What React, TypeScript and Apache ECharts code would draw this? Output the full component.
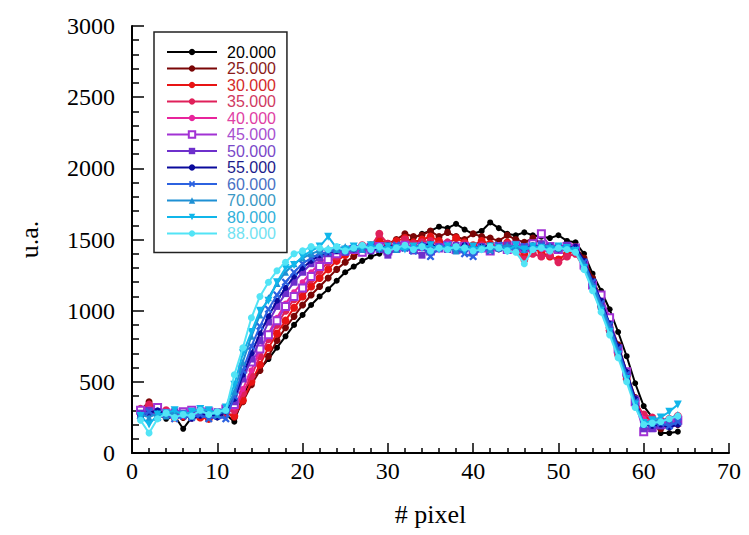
import { useEffect, useRef } from 'react';
import * as echarts from 'echarts';

const pixels = [1, 2, 3, 4, 5, 6, 7, 8, 9, 10, 11, 12, 13, 14, 15, 16, 17, 18, 19, 20, 21, 22, 23, 24, 25, 26, 27, 28, 29, 30, 31, 32, 33, 34, 35, 36, 37, 38, 39, 40, 41, 42, 43, 44, 45, 46, 47, 48, 49, 50, 51, 52, 53, 54, 55, 56, 57, 58, 59, 60, 61, 62, 63, 64];

const energies = ['20.000', '25.000', '30.000', '35.000', '40.000', '45.000', '50.000', '55.000', '60.000', '70.000', '80.000', '88.000'];

const s20 = [250, 300, 270, 240, 260, 170, 250, 260, 240, 250,
  270, 220, 400, 520, 590, 660, 740, 820, 900, 970,
  1040, 1100, 1150, 1210, 1270, 1310, 1350, 1380, 1400, 1430,
  1450, 1480, 1510, 1540, 1560, 1590, 1580, 1610, 1570, 1540,
  1560, 1620, 1580, 1540, 1530, 1550, 1530, 1520, 1510, 1530,
  1490, 1480, 1400, 1260, 1140, 1010, 850, 680, 490, 330,
  250, 140, 140, 150];
const s25 = [300, 360, 300, 280, 270, 250, 280, 260, 270, 260,
  290, 250, 360, 480, 580, 680, 790, 880, 960, 1040,
  1110, 1170, 1230, 1290, 1340, 1380, 1420, 1450, 1480, 1470,
  1500, 1540, 1520, 1530, 1560, 1520, 1550, 1520, 1500, 1540,
  1520, 1510, 1490, 1530, 1500, 1480, 1510, 1470, 1450, 1440,
  1460, 1450, 1370, 1230, 1080, 920, 760, 570, 390, 230,
  180, 170, 190, 200];
const s30 = [280, 320, 290, 270, 250, 260, 270, 250, 240, 270,
  280, 260, 370, 500, 620, 740, 840, 930, 1020, 1100,
  1170, 1230, 1290, 1350, 1390, 1420, 1440, 1460, 1500, 1470,
  1490, 1510, 1480, 1500, 1520, 1490, 1470, 1510, 1480, 1460,
  1490, 1470, 1450, 1480, 1430, 1400, 1440, 1410, 1380, 1360,
  1400, 1420, 1320, 1200, 1050, 880, 710, 540, 370, 260,
  230, 200, 210, 230];
const s35 = [310, 340, 280, 300, 260, 280, 250, 270, 260, 280,
  290, 300, 420, 540, 680, 800, 900, 1000, 1080, 1150,
  1220, 1280, 1340, 1380, 1420, 1440, 1460, 1450, 1540, 1470,
  1450, 1500, 1470, 1480, 1490, 1460, 1480, 1450, 1470, 1440,
  1460, 1430, 1450, 1470, 1420, 1360, 1400, 1380, 1390, 1340,
  1380, 1400, 1300, 1180, 1030, 860, 690, 520, 350, 270,
  250, 230, 240, 260];
const s40 = [290, 310, 300, 270, 280, 260, 290, 270, 280, 260,
  300, 320, 450, 580, 720, 840, 950, 1050, 1130, 1200,
  1270, 1330, 1380, 1410, 1430, 1420, 1440, 1430, 1450, 1440,
  1460, 1450, 1430, 1460, 1440, 1450, 1470, 1440, 1430, 1450,
  1440, 1460, 1430, 1450, 1440, 1420, 1450, 1430, 1410, 1420,
  1440, 1430, 1330, 1190, 1040, 880, 720, 540, 360, 240,
  220, 230, 220, 240];
const s45 = [300, 290, 320, 280, 270, 290, 300, 280, 290, 270,
  310, 340, 590, 640, 730, 830, 930, 1030, 1100, 1160,
  1240, 1310, 1360, 1400, 1420, 1430, 1410, 1440, 1450, 1420,
  1440, 1460, 1430, 1450, 1420, 1440, 1460, 1430, 1450, 1420,
  1440, 1420, 1450, 1430, 1460, 1440, 1470, 1540, 1450, 1430,
  1450, 1440, 1320, 1180, 1110, 950, 730, 570, 360, 150,
  180, 200, 210, 230];
const s50 = [280, 300, 290, 270, 290, 280, 270, 300, 280, 290,
  300, 360, 520, 660, 790, 920, 1030, 1120, 1200, 1270,
  1330, 1370, 1400, 1420, 1410, 1430, 1440, 1420, 1430, 1390,
  1430, 1440, 1420, 1390, 1440, 1450, 1430, 1460, 1440, 1420,
  1450, 1430, 1440, 1460, 1430, 1450, 1440, 1470, 1450, 1440,
  1460, 1430, 1340, 1200, 1060, 900, 740, 560, 380, 170,
  170, 190, 200, 210];
const s55 = [260, 280, 300, 270, 250, 270, 240, 260, 280, 250,
  290, 380, 550, 700, 840, 960, 1070, 1160, 1240, 1300,
  1350, 1390, 1410, 1420, 1440, 1430, 1450, 1440, 1430, 1460,
  1440, 1450, 1430, 1460, 1470, 1440, 1450, 1430, 1460, 1440,
  1450, 1460, 1430, 1440, 1450, 1430, 1460, 1440, 1450, 1430,
  1440, 1450, 1350, 1210, 1070, 910, 750, 570, 380, 200,
  190, 200, 180, 200];
const s60 = [260, 290, 250, 270, 240, 260, 250, 270, 240, 260,
  240, 400, 580, 750, 890, 1010, 1110, 1200, 1270, 1330,
  1370, 1400, 1410, 1430, 1420, 1440, 1430, 1450, 1440, 1430,
  1460, 1440, 1420, 1450, 1380, 1440, 1460, 1430, 1400, 1380,
  1440, 1420, 1460, 1440, 1430, 1450, 1440, 1460, 1430, 1450,
  1440, 1430, 1340, 1200, 1050, 900, 730, 550, 360, 200,
  200, 210, 190, 220];
const s70 = [270, 250, 280, 260, 290, 270, 260, 300, 280, 270,
  300, 430, 640, 820, 970, 1090, 1190, 1270, 1330, 1370,
  1400, 1420, 1440, 1430, 1450, 1440, 1430, 1460, 1440, 1450,
  1430, 1450, 1440, 1470, 1430, 1450, 1440, 1420, 1460, 1440,
  1450, 1430, 1440, 1460, 1450, 1430, 1440, 1450, 1460, 1440,
  1450, 1430, 1330, 1180, 1030, 870, 710, 530, 350, 210,
  220, 230, 240, 270];
const s80 = [260, 200, 270, 280, 300, 270, 290, 310, 300, 280,
  320, 480, 700, 850, 1000, 1070, 1200, 1300, 1320, 1380,
  1420, 1450, 1520, 1440, 1430, 1450, 1440, 1460, 1430, 1450,
  1440, 1430, 1450, 1440, 1460, 1430, 1450, 1440, 1420, 1450,
  1430, 1450, 1440, 1420, 1460, 1430, 1450, 1440, 1430, 1450,
  1440, 1420, 1300, 1150, 1000, 850, 690, 520, 340, 210,
  230, 250, 290, 340];
const s88 = [230, 140, 240, 280, 250, 270, 260, 300, 270, 290,
  300, 550, 740, 950, 1100, 1200, 1280, 1340, 1400, 1420,
  1450, 1440, 1430, 1450, 1420, 1440, 1460, 1430, 1450, 1420,
  1440, 1460, 1430, 1450, 1420, 1440, 1430, 1450, 1440, 1420,
  1430, 1450, 1440, 1420, 1410, 1330, 1430, 1440, 1420, 1440,
  1430, 1410, 1290, 1140, 990, 830, 670, 500, 320, 200,
  210, 220, 240, 260];

const seriesValues = [s20, s25, s30, s35, s40, s45, s50, s55, s60, s70, s80, s88];

const xTicks = { min: 0, max: 70, interval: 10 };
const yTicks = { min: 0, max: 3000, interval: 500 };

const lineColors = ['#000000', '#7a0606', '#e81414', '#e0205a', '#e8249c', '#a232d4', '#6e30cc', '#0a0a9c', '#2c62e0', '#1e90d4', '#10b6ea', '#52e4f6'];
const textColors = ['#000000', '#8a1a1a', '#d42a2a', '#d03a62', '#e040a4', '#a850d0', '#7a48c8', '#1c1c8c', '#4a70c4', '#3a98c4', '#30b0da', '#72e2f2'];
const xSymbol = 'path://M0,2L2,0L5,3L8,0L10,2L7,5L10,8L8,10L5,7L2,10L0,8L3,5Z';
const symbols = ['circle', 'circle', 'circle', 'circle', 'circle', 'emptyRect', 'rect', 'circle', xSymbol, 'triangle', 'triangle', 'circle'];
const symbolRotates = [0, 0, 0, 0, 0, 0, 0, 0, 0, 0, 180, 0];
const symbolSizes = [6, 7, 8, 8, 6, 7, 7, 6, 8, 7, 8, 7];

export default function App() {
  const ref = useRef<HTMLDivElement>(null);
  useEffect(() => {
    if (!ref.current) return;
    const chart = echarts.init(ref.current, null, { renderer: 'svg' });
    const serif = "'Liberation Serif', 'Times New Roman', serif";
    chart.setOption({
      animation: false,
      backgroundColor: '#ffffff',
      grid: { left: 132, right: 20, top: 26, bottom: 82, outerBoundsMode: 'none' },
      legend: {
        orient: 'vertical',
        left: 154,
        top: 32,
        padding: [12, 11, 11, 12],
        itemWidth: 50,
        itemHeight: 8,
        itemGap: 0.5,
        borderColor: '#222',
        borderWidth: 1.5,
        backgroundColor: '#ffffff',
        textStyle: { fontFamily: "'Liberation Sans', Arial, sans-serif", fontSize: 16, lineHeight: 15, padding: [0, 0, 0, 5] },
        data: energies.map((n, i) => ({ name: n, textStyle: { color: textColors[i] } })),
      },
      xAxis: {
        type: 'value',
        min: xTicks.min,
        max: xTicks.max,
        interval: xTicks.interval,
        name: '# pixel',
        nameLocation: 'middle',
        nameGap: 48,
        nameTextStyle: { fontFamily: serif, fontSize: 26, color: '#000' },
        axisLine: { show: true, onZero: false, lineStyle: { color: '#000', width: 2 } },
        axisTick: { show: true, inside: true, length: 10, lineStyle: { color: '#000', width: 1.5 } },
        minorTick: { show: true, splitNumber: 5, length: 5, lineStyle: { color: '#000', width: 1.5 } },
        splitLine: { show: false },
        axisLabel: { fontFamily: serif, fontSize: 24, color: '#000', margin: 6, formatter: (v: number) => String(v) },
      },
      yAxis: {
        type: 'value',
        min: yTicks.min,
        max: yTicks.max,
        interval: yTicks.interval,
        name: 'u.a.',
        nameLocation: 'middle',
        nameGap: 90,
        nameTextStyle: { fontFamily: serif, fontSize: 26, color: '#000' },
        axisLine: { show: true, onZero: false, lineStyle: { color: '#000', width: 2 } },
        axisTick: { show: true, inside: true, length: 12, lineStyle: { color: '#000', width: 1.5 } },
        minorTick: { show: true, splitNumber: 5, length: 7, lineStyle: { color: '#000', width: 1.5 } },
        splitLine: { show: false },
        axisLabel: { fontFamily: serif, fontSize: 24, color: '#000', margin: 17, padding: [0, 0, 8, 0], formatter: (v: number) => String(v) },
      },
      series: seriesValues.map((vals, i) => ({
        name: energies[i],
        type: 'line',
        data: pixels.map((x, j) => [x, vals[j]]),
        symbol: symbols[i],
        symbolSize: symbolSizes[i],
        symbolRotate: symbolRotates[i],
        showAllSymbol: true,
        lineStyle: { color: lineColors[i], width: 2 },
        itemStyle: { color: lineColors[i], borderColor: lineColors[i], borderWidth: symbols[i] === 'emptyRect' ? 1.5 : 0 },
        z: 2 + i,
      })),
    });
    return () => chart.dispose();
  }, []);
  return <div ref={ref} style={{ position: 'fixed', left: 0, top: 0, width: 749, height: 535 }} />;
}
